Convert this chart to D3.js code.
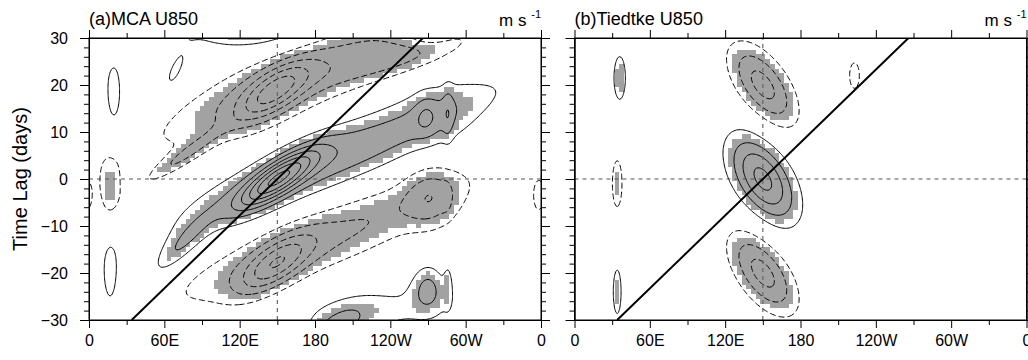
<!DOCTYPE html>
<html><head><meta charset="utf-8">
<script src="https://cdn.jsdelivr.net/npm/d3@7"></script>
<style>body{margin:0;background:#fff}</style>
</head><body>
<svg id="fig" width="1028" height="360"></svg>
<script>
// Lag-longitude composites of 850 hPa zonal wind anomalies (m s-1)
const CI = 0.2;                                   // contour interval
const levels = [-7,-6,-5,-4,-3,-2,-1,1,2,3,4,5,6,7,8].map(k => k * CI);
const shadeLevel = 1.45 * CI;                     // shaded where |u| exceeds this

const lonTicks = [0, 60, 120, 180, 240, 300, 360];
const lonTickLabels = ["0", "60E", "120E", "180", "120W", "60W", "0"];
const lonMinor = [30, 90, 150, 210, 270, 330];
const lagTicks = [-30, -20, -10, 0, 10, 20, 30];
const lagMinor = d3.range(-30, 31, 2).filter(d => d % 10 !== 0);

// 5 m s-1 eastward propagation reference line (lon, lag end points)
const refLon = [34, 266];
const refLag = [-30, 30];
const baseLon = 150;

// (a) MCA: anomaly centres, amplitude (m s-1), widths (deg, days), tilt (deg/day)
const mcaLon  = [200,  150,  278,  268,  286,  130,  270,  195,  270,  286,  225,   20,   17,   68,   74,   147,   170,  255,   76,   148,   185,   272,   285,    17,   358];
const mcaLag  = [5,      0,   13, 13.5, 13.5,   33,   34,  -32,  -23,-22.5,  -28,   17,  -21, 22.5,  -14,  18.5,    22,   26,    5, -18.3,   -13,    -4,    -4,  -2.5,    -4];
const mcaAmp  = [0.54, 1.02, 0.12, 0.17, 0.17, 0.44,  0.6,  0.4, 0.38,  0.2, 0.26, 0.28, 0.28, 0.24, 0.36, -0.64, -0.54, -0.3,-0.36, -0.64, -0.44, -0.34, -0.12, -0.30, -0.26];
const mcaSx   = [38,    13,   18,    6,    3,   40,   12,   12,    9,  2.5,   50,    5,    5,    6,    9,    15,    40,   25,    8,    15,    42,    14,     3,     7,     4];
const mcaSy   = [10.5, 4.5,    5,    3,  4.5,    4,    3,    3,  3.5,  3.5,    4,  5.5,    6,    4,    5,   4.5,    10,  3.5,    4,   4.5,    10,   4.5,   2.5,     5,     3];
const mcaTilt = [7.5,    4,    0,    0,    0,    0,    0,    3,    0,    0,    3,    0,    0,  1.5,    3,     3,   6.5,    8,    5,     3,   7.5,     0,     0,     0,     0];

// (b) Tiedtke
const tdkLon  = [150,   150,   150,   36,    34,    34,   223];
const tdkLag  = [0,      20,   -20, 21.5,    -1,   -24,    22];
const tdkAmp  = [0.86, -0.68, -0.68, 0.38, -0.36,  0.34, -0.27];
const tdkSx   = [16,     15,    15,    4,   3.5,     3,     5];
const tdkSy   = [6.3,     6,     6,    4,   4.5,   4.5,   3.5];
const tdkTilt = [-1.5, -1.8,  -1.8,    0,     0,     0,     0];

const panels = [
  {x0: 89,    title: "(a)MCA U850",     lon: mcaLon, lag: mcaLag, amp: mcaAmp, sx: mcaSx, sy: mcaSy, tilt: mcaTilt, yLabels: true},
  {x0: 574.5, title: "(b)Tiedtke U850", lon: tdkLon, lag: tdkLag, amp: tdkAmp, sx: tdkSx, sy: tdkSy, tilt: tdkTilt, yLabels: false}
];
const W = 452, plotTop = 38, plotBottom = 320;
const FONT = "'Liberation Sans', Arial, Helvetica, sans-serif";

function fieldOf(p) {
  return (lon, lag) => {
    let v = 0;
    for (let k = 0; k < p.lon.length; k++) {
      const dt = lag - p.lag[k];
      let dx = lon - p.lon[k] - p.tilt[k] * dt;
      dx = ((dx + 180) % 360 + 360) % 360 - 180;
      const u = dx / p.sx[k], w = dt / p.sy[k];
      v += p.amp[k] * Math.exp(-0.5 * (u * u + w * w));
    }
    return v;
  };
}

const svg = d3.select("#fig");

panels.forEach((p, pi) => {
  const x = d3.scaleLinear().domain([0, 360]).range([p.x0, p.x0 + W]);
  const y = d3.scaleLinear().domain([-30, 30]).range([plotBottom, plotTop]);
  const f = fieldOf(p);
  const g = svg.append("g");
  const clipId = "clip" + pi;
  svg.append("clipPath").attr("id", clipId).append("rect")
    .attr("x", p.x0).attr("y", plotTop).attr("width", W).attr("height", plotBottom - plotTop);
  const plot = g.append("g").attr("clip-path", `url(#${clipId})`);

  // shading on the analysis grid
  const dLonS = 3.75;
  const cells = [];
  for (let lon = 0; lon <= 360; lon += dLonS)
    for (let lag = -30; lag <= 30; lag += 1)
      if (Math.abs(f(lon, lag)) >= shadeLevel) cells.push([lon, lag]);
  plot.append("g").attr("shape-rendering", "crispEdges").selectAll("rect").data(cells).join("rect")
    .attr("x", d => x(d[0] - dLonS / 2)).attr("width", x(dLonS) - x(0))
    .attr("y", d => y(d[1] + 0.5)).attr("height", y(-0.5) - y(0.5))
    .attr("fill", "#a2a2a2");

  // contours
  const dLon = 1, dLag = 0.25;
  const nx = 361, ny = 241;
  const vals = new Float64Array(nx * ny);
  for (let j = 0; j < ny; j++)
    for (let i = 0; i < nx; i++)
      vals[j * nx + i] = f(i * dLon, 30 - j * dLag);
  const neg = vals.map(v => -v);
  const proj = d3.geoTransform({
    point(cx, cy) { this.stream.point(x((cx - 0.5) * dLon), y(30 - (cy - 0.5) * dLag)); }
  });
  const path = d3.geoPath(proj);
  const posLv = levels.filter(l => l > 0), negLv = levels.filter(l => l < 0).map(l => -l);
  const cPos = d3.contours().size([nx, ny]).thresholds(posLv)(vals);
  const cNeg = d3.contours().size([nx, ny]).thresholds(negLv)(neg);
  plot.append("g").selectAll("path").data(cPos).join("path")
    .attr("d", path).attr("fill", "none").attr("stroke", "#000").attr("stroke-width", 1);
  plot.append("g").selectAll("path").data(cNeg).join("path")
    .attr("d", path).attr("fill", "none").attr("stroke", "#000").attr("stroke-width", 1)
    .attr("stroke-dasharray", "6,3");

  // zero-lag and base-longitude guides
  plot.append("line").attr("x1", x(0)).attr("x2", x(360)).attr("y1", y(0)).attr("y2", y(0))
    .attr("stroke", "#555").attr("stroke-width", 1.2).attr("stroke-dasharray", "4,4");
  plot.append("line").attr("x1", x(baseLon)).attr("x2", x(baseLon)).attr("y1", y(-30)).attr("y2", y(30))
    .attr("stroke", "#666").attr("stroke-width", 1.2).attr("stroke-dasharray", "4,4");

  // propagation line
  plot.append("line").attr("x1", x(refLon[0])).attr("y1", y(refLag[0]))
    .attr("x2", x(refLon[1])).attr("y2", y(refLag[1]))
    .attr("stroke", "#000").attr("stroke-width", 2);

  // axes
  const styleAxis = (sel) => {
    sel.selectAll("path,line").attr("stroke", "#000").attr("stroke-width", 1);
    sel.selectAll("text").attr("font-family", FONT).attr("font-size", 16).attr("fill", "#000");
  };
  g.append("g").attr("transform", `translate(0,${plotBottom})`)
    .call(d3.axisBottom(x).tickValues(lonTicks).tickFormat((d, i) => lonTickLabels[i]).tickSize(8).tickSizeOuter(0).tickPadding(7))
    .call(styleAxis);
  g.append("g").attr("transform", `translate(0,${plotBottom})`)
    .call(d3.axisBottom(x).tickValues(lonMinor).tickFormat("").tickSize(5).tickSizeOuter(0)).call(styleAxis);
  g.append("g").attr("transform", `translate(0,${plotTop})`)
    .call(d3.axisTop(x).tickValues(lonTicks).tickFormat("").tickSize(8).tickSizeOuter(0)).call(styleAxis);
  g.append("g").attr("transform", `translate(0,${plotTop})`)
    .call(d3.axisTop(x).tickValues(lonMinor).tickFormat("").tickSize(5).tickSizeOuter(0)).call(styleAxis);
  g.append("g").attr("transform", `translate(${p.x0},0)`)
    .call(d3.axisLeft(y).tickValues(lagTicks).tickFormat(p.yLabels ? d3.format("d") : "").tickSize(9).tickSizeOuter(0).tickPadding(12))
    .call(styleAxis);
  g.append("g").attr("transform", `translate(${p.x0},0)`)
    .call(d3.axisLeft(y).tickValues(lagMinor).tickFormat("").tickSize(5).tickSizeOuter(0)).call(styleAxis);
  g.append("g").attr("transform", `translate(${p.x0 + W},0)`)
    .call(d3.axisRight(y).tickValues(lagTicks).tickFormat("").tickSize(9).tickSizeOuter(0)).call(styleAxis);
  g.append("g").attr("transform", `translate(${p.x0 + W},0)`)
    .call(d3.axisRight(y).tickValues(lagMinor).tickFormat("").tickSize(5).tickSizeOuter(0)).call(styleAxis);
  g.append("rect").attr("x", p.x0).attr("y", plotTop).attr("width", W).attr("height", plotBottom - plotTop)
    .attr("fill", "none").attr("stroke", "#000").attr("stroke-width", 1);

  // titles
  g.append("text").attr("x", p.x0).attr("y", 25).attr("font-family", FONT).attr("font-size", 18)
    .text(p.title);
  const unit = g.append("text").attr("x", p.x0 + W).attr("y", 26).attr("text-anchor", "end")
    .attr("font-family", FONT).attr("font-size", 17);
  unit.append("tspan").text("m s ");
  unit.append("tspan").attr("font-size", 11).attr("dy", -8).text("-1");
});

svg.append("text").attr("transform", "translate(27,179) rotate(-90)").attr("text-anchor", "middle")
  .attr("font-family", FONT).attr("font-size", 20).text("Time Lag (days)");
</script>
</body></html>
